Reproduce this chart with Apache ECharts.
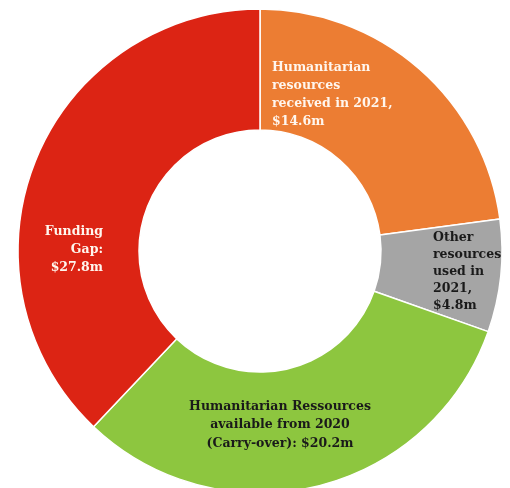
<!DOCTYPE html>
<html>
<head>
<meta charset="utf-8">
<script src="https://cdn.jsdelivr.net/npm/echarts@6/dist/echarts.min.js"></script>
<style>
  html, body { margin: 0; padding: 0; background: #ffffff; }
  #myChart { width: 510px; height: 488px; }
</style>
</head>
<body>
<div id="myChart"></div>
<script>
// slice names and label text (line breaks as in the picture)
var names = ["Humanitarian resources received in 2021", "Other resources used in 2021", "Humanitarian Ressources available from 2020", "Funding Gap"];
var labelText = [
  "Humanitarian\nresources\nreceived in 2021,\n$14.6m",
  "Other\nresources\nused in\n2021,\n$4.8m",
  "Humanitarian Ressources\navailable from 2020\n(Carry-over): $20.2m",
  "Funding\nGap:\n$27.8m"
];
var values = [14.6, 4.8, 20.2, 24.2];
var colors = ["#EC7D33", "#A5A5A5", "#8DC63F", "#DC2414"];
var textColors = ["#FFF6EE", "#1A1A1A", "#1A1A1A", "#FFF6EE"];

// where each label block sits
var labelPos = [
  { x: 272, y: 59, align: "left" },
  { x: 433, y: 229, align: "left" },
  { x: 280, y: 397, align: "center" },
  { x: 103, y: 223, align: "right" }
];
var labelLine = [18, 17, 18.5, 18];

var myChart = echarts.init(document.getElementById("myChart"));
var data = [];
for (var i = 0; i < values.length; i++) {
  data.push({
    name: names[i],
    value: values[i],
    itemStyle: { color: colors[i] },
    label: {
      color: textColors[i],
      align: labelPos[i].align,
      lineHeight: labelLine[i]
    }
  });
}

var option = {
  animation: false,
  series: [
    {
      type: "pie",
      center: [260, 251],
      radius: [121, 242],
      startAngle: 90,
      clockwise: true,
      itemStyle: { borderColor: "#ffffff", borderWidth: 1.5 },
      label: {
        show: true,
        position: "inside",
        fontFamily: "DejaVu Serif",
        fontWeight: "bold",
        fontSize: 12.5,
        formatter: function (p) { return labelText[p.dataIndex]; }
      },
      labelLine: { show: false },
      labelLayout: function (p) {
        var l = labelPos[p.dataIndex];
        return { x: l.x, y: l.y, align: l.align, verticalAlign: "top" };
      },
      emphasis: { disabled: true },
      data: data
    }
  ]
};

option && myChart.setOption(option);
</script>
</body>
</html>
